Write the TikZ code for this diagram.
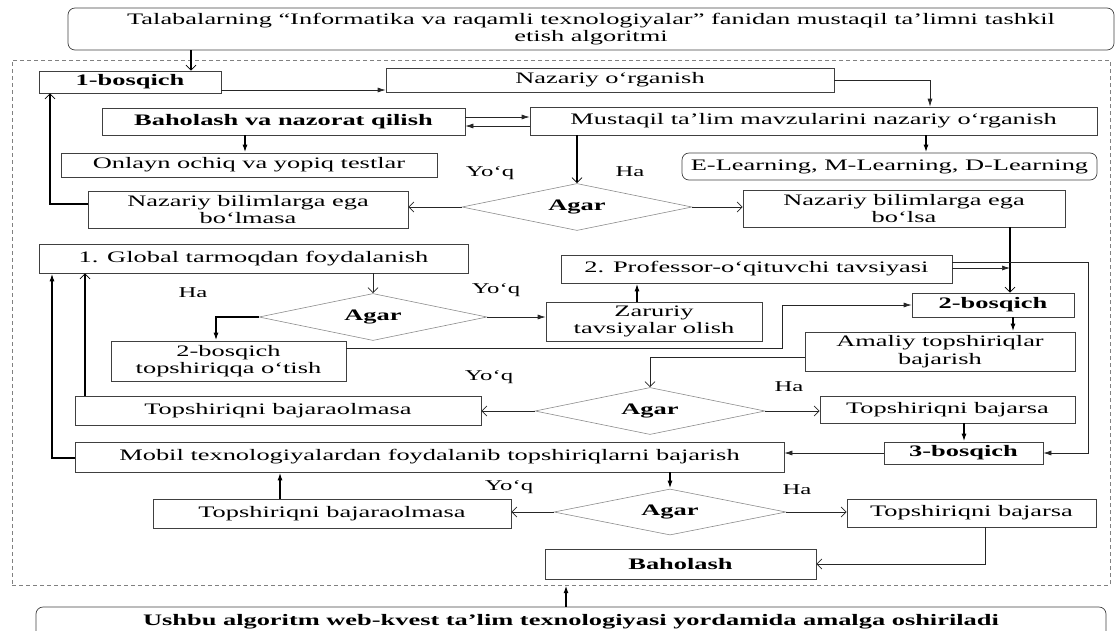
\documentclass[tikz,border=0pt]{standalone}
\usepackage{fontspec}
\setmainfont{Liberation Serif}[FakeStretch=1.65]
\usetikzlibrary{arrows.meta}
\usetikzlibrary{shapes}

\begin{document}
\begin{tikzpicture}[x=1pt, y=-1pt,
	box/.style={rectangle, draw=black!75, line width=0.7pt, inner sep=0pt, align=center, font=\fontsize{16}{17.5}\selectfont},
	boldbox/.style={box, font=\bfseries\fontsize{16}{17.5}\selectfont},
	roundbox/.style={box, rounded corners=7pt},
	decision/.style={diamond, aspect=4.9, draw=black!45, line width=0.6pt, inner sep=0pt, font=\bfseries\fontsize{16}{18}\selectfont},
	answer/.style={inner sep=0pt, font=\fontsize{15}{17}\selectfont},
	line/.style={draw, line width=0.7pt, black!85},
	thickline/.style={draw, line width=1.6pt},
	filltip/.style={-{Latex[length=8pt, width=5pt]}},
	opentip/.style={-{Straight Barb[length=5pt, width=10pt, line width=0.8pt]}}]

	\useasboundingbox (0,0) rectangle (1117,630);

	\node[draw=gray, dash pattern=on 4pt off 3pt, minimum width=1098pt, minimum height=525pt, inner sep=0pt] (frame) at (561,322.5) {};

	\node[roundbox, minimum width=1046pt, minimum height=42pt] (title) at (591,29) {Talabalarning “Informatika va raqamli texnologiyalar” fanidan mustaqil ta’limni tashkil\\etish algoritmi};

	\node[boldbox, minimum width=182pt, minimum height=22pt] (b1) at (130,82) {1-bosqich};

	\node[box, minimum width=448pt, minimum height=24pt] (nazariy) at (610,80) {Nazariy o‘rganish};

	\node[boldbox, minimum width=363pt, minimum height=27pt] (baholashN) at (283.5,121.5) {Baholash va nazorat qilish};

	\node[box, minimum width=567pt, minimum height=28pt] (mustaqil) at (813.5,121) {Mustaqil ta’lim mavzularini nazariy o‘rganish};

	\node[box, minimum width=376pt, minimum height=24pt] (onlayn) at (249,165) {Onlayn ochiq va yopiq testlar};

	\node[roundbox, minimum width=415pt, minimum height=27pt] (elearn) at (889.5,166.5) {E-Learning, M-Learning, D-Learning};

	\node[decision, minimum width=230pt, minimum height=47pt] (d1) at (577,207) {Agar};

	\node[box, minimum width=320pt, minimum height=37pt] (bolmasa) at (248,209.5) {Nazariy bilimlarga ega\\bo‘lmasa};

	\node[box, minimum width=322pt, minimum height=37pt] (bolsa) at (904,208.5) {Nazariy bilimlarga ega\\bo‘lsa};

	\node[box, minimum width=429pt, minimum height=29pt] (global) at (253.5,258.5) {1. Global tarmoqdan foydalanish};

	\node[box, minimum width=391pt, minimum height=28pt] (professor) at (756.5,269) {2. Professor-o‘qituvchi tavsiyasi};

	\node[decision, minimum width=228pt, minimum height=47pt] (d2) at (373,317) {Agar};

	\node[box, minimum width=216pt, minimum height=39pt] (zaruriy) at (654,321.5) {Zaruriy\\tavsiyalar olish};

	\node[boldbox, minimum width=162pt, minimum height=24pt] (bosq2) at (993,305) {2-bosqich};

	\node[box, minimum width=235pt, minimum height=40pt] (otish) at (228.5,361) {2-bosqich\\topshiriqqa o‘tish};

	\node[box, minimum width=270pt, minimum height=39pt] (amaliy) at (940,351.5) {Amaliy topshiriqlar\\bajarish};

	\node[decision, minimum width=230pt, minimum height=47pt] (d3) at (650,411) {Agar};

	\node[box, minimum width=406pt, minimum height=29pt] (bajmas1) at (278,410.5) {Topshiriqni bajaraolmasa};

	\node[box, minimum width=255pt, minimum height=27pt] (bajar1) at (947.5,409.5) {Topshiriqni bajarsa};

	\node[boldbox, minimum width=159pt, minimum height=22pt] (bosq3) at (963.5,453) {3-bosqich};

	\node[box, minimum width=709pt, minimum height=30pt] (mobil) at (429.5,457) {Mobil texnologiyalardan foydalanib topshiriqlarni bajarish};

	\node[decision, minimum width=232pt, minimum height=46pt] (d4) at (670,512) {Agar};

	\node[box, minimum width=358pt, minimum height=29pt] (bajmas2) at (332,513.5) {Topshiriqni bajaraolmasa};

	\node[box, minimum width=249pt, minimum height=28pt] (bajar2) at (971.5,513) {Topshiriqni bajarsa};

	\node[boldbox, minimum width=271pt, minimum height=30pt] (baholash) at (680.5,564) {Baholash};

	\node[roundbox, font=\bfseries\fontsize{16}{17.5}\selectfont, minimum width=1070pt, text height=18pt, text depth=20pt, anchor=base] (ushbu) at (571,625) {Ushbu algoritm web-kvest ta’lim texnologiyasi yordamida amalga oshiriladi};

	% javob yorliqlari
	\node[answer] (yoq1) at (490,173) {Yo‘q};
	\node[answer] (ha1) at (630,172) {Ha};
	\node[answer] (ha2) at (193,293) {Ha};
	\node[answer] (yoq2) at (496,290) {Yo‘q};
	\node[answer] (yoq3) at (489,377) {Yo‘q};
	\node[answer] (ha3) at (789,387) {Ha};
	\node[answer] (yoq4) at (509,487) {Yo‘q};
	\node[answer] (ha4) at (797,490) {Ha};

	\coordinate (join) at (1010,268);

	\path [thickline, opentip] (title.south -| 191,0) -- (b1.north -| 191,0);
	\path [line, filltip] (b1.east |- 0,90) -- (nazariy.west |- 0,90);
	\path [line, filltip] (nazariy.east) -| (mustaqil.north -| 930,0);
	\path [line, filltip] (baholashN.east |- 0,117) -- (mustaqil.west |- 0,117);
	\path [line, filltip] (mustaqil.west |- 0,126) -- (baholashN.east |- 0,126);
	\path [thickline, filltip] (baholashN.south -| 245,0) -- (onlayn.north -| 245,0);
	\path [thickline, filltip] (mustaqil.south -| 926,0) -- (elearn.north -| 926,0);
	\path [thickline, opentip] (mustaqil.south -| d1) -- (d1.north);
	\path [line, opentip] (d1.west) -- (bolmasa.east |- d1.west);
	\path [line, opentip] (d1.east) -- (bolsa.west |- d1.east);
	\path [thickline, opentip] (bolmasa.west |- 0,204) -| (b1.south -| 50,0);
	\path [thickline, opentip] (bolsa.south -| join) -- (bosq2.north -| join);
	\path [line, filltip] (professor.east |- join) -- (join);
	\path [line, filltip] (professor.east |- 0,262) -- (1088,262) |- (bosq3.east);

	\path [line, line width=1pt, opentip] (global.south -| d2) -- (d2.north);
	\path [thickline, filltip] (d2.west) -| (otish.north -| 216,0);
	\path [line, filltip] (d2.east) -- (zaruriy.west |- d2.east);
	\path [thickline, filltip] (zaruriy.north -| 637,0) -- (professor.south -| 637,0);
	\path [line, filltip] (otish.east |- 0,348) -- (782,348) |- (bosq2.west);
	\path [thickline, filltip] (bosq2.south -| 1013,0) -- (amaliy.north -| 1013,0);
	\path [line, opentip] (amaliy.west |- 0,357) -| (d3.north);
	\path [line, opentip] (d3.west) -- (bajmas1.east |- d3.west);
	\path [line, opentip] (d3.east) -- (bajar1.west |- d3.east);
	\path [thickline, filltip] (bajar1.south -| 964,0) -- (bosq3.north -| 964,0);
	\path [line, filltip] (bosq3.west) -- (mobil.east |- bosq3.west);
	\path [thickline, filltip] (mobil.west |- 0,458) -| (global.south -| 52,0);
	\path [thickline, opentip] (bajmas1.north -| 85,0) -- (global.south -| 85,0);

	\path [thickline, filltip] (mobil.south -| d4) -- (d4.north);
	\path [line, opentip] (d4.west) -- (bajmas2.east |- d4.west);
	\path [thickline, filltip] (bajmas2.north -| 280,0) -- (mobil.south -| 280,0);
	\path [line, opentip] (d4.east) -- (bajar2.west |- d4.east);
	\path [line, opentip] (bajar2.south -| 985,0) |- (baholash.east);
	\path [thickline, filltip] (ushbu.north -| 566,0) -- (frame.south -| 566,0);
\end{tikzpicture}
\end{document}
